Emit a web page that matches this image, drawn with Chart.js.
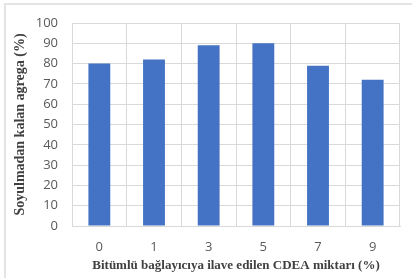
<!DOCTYPE html>
<html>
<head>
<meta charset="utf-8">
<script src="https://cdn.jsdelivr.net/npm/chart.js@4"></script>
<style>
  html, body { margin: 0; padding: 0; background: #fff; overflow: hidden; }
  #wrap { position: relative; width: 412px; height: 278px; }
  #frame { position: absolute; left: 4px; top: 3px; width: 430px; height: 300px; border: 2px solid #e4e4e4; box-sizing: border-box; }
  canvas { position: absolute; left: 0; top: 0; }
</style>
</head>
<body>
<div id="wrap">
  <div id="frame"></div>
  <canvas id="myChart" width="412" height="278"></canvas>
</div>
<script>
// data
var categories = ['0', '1', '3', '5', '7', '9'];
var values = [80, 82, 89, 90, 79, 72];
var yMin = 0, yMax = 100, yStep = 10;

var xTitle = 'Bitümlü bağlayıcıya ilave edilen CDEA miktarı (%)';
var yTitle = 'Soyulmadan kalan agrega (%)';

var tickFont = { family: '"Open Sans"', size: 13 };
var gridColor = '#d9d9d9';

var ctx = document.getElementById('myChart').getContext('2d');
var myChart = new Chart(ctx, {
  type: 'bar',
  data: {
    labels: categories,
    datasets: [{
      data: values,
      backgroundColor: '#4472c4',
      borderWidth: 0,
      barPercentage: 0.4,
      categoryPercentage: 1
    }]
  },
  options: {
    responsive: false,
    animation: false,
    devicePixelRatio: 1,
    layout: { padding: { left: 0, top: 23, right: 12, bottom: 0 } },
    plugins: { legend: { display: false }, tooltip: { enabled: false } },
    scales: {
      x: {
        grid: { color: gridColor, lineWidth: 1, drawTicks: false, offset: true },
        border: { color: gridColor, width: 1 },
        ticks: { font: tickFont, color: '#595959', padding: 13 },
        title: { display: true, text: xTitle, font: { family: '"Liberation Serif"', size: 13, weight: 'bold' }, color: '#404040', padding: { top: 0, bottom: 5 } },
        afterFit: function (scale) { scale.height = 52; }
      },
      y: {
        min: yMin,
        max: yMax,
        grid: { color: gridColor, lineWidth: 1, drawTicks: false },
        border: { color: gridColor, width: 1 },
        ticks: { stepSize: yStep, font: tickFont, color: '#595959', padding: 14 },
        title: { display: true, text: yTitle, font: { family: '"Liberation Serif"', size: 14, weight: 'bold' }, color: '#404040', padding: { top: 12, bottom: 0 } },
        afterFit: function (scale) { scale.width = 72; }
      }
    }
  }
});
</script>
</body>
</html>
